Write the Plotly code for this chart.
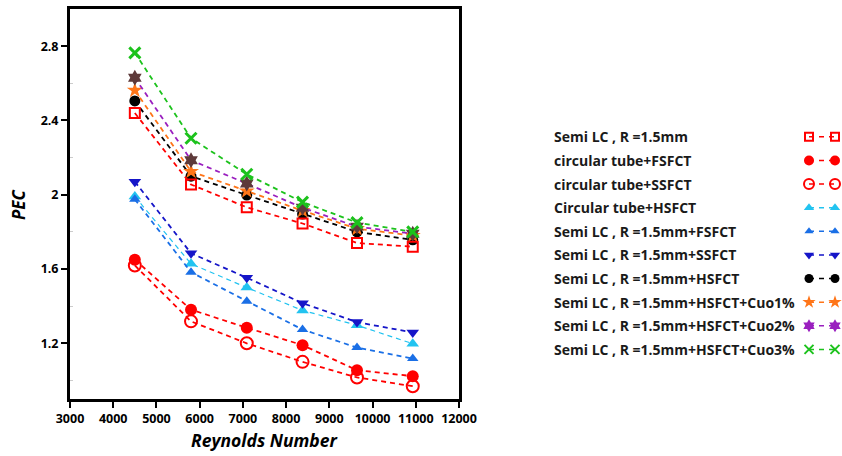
import plotly.graph_objects as go

# ---------------- data ----------------
reynolds = [4500, 5800, 7090, 8380, 9640, 10930]

series_names = [
    "Semi LC , R =1.5mm",
    "circular tube+FSFCT",
    "circular tube+SSFCT",
    "Circular tube+HSFCT",
    "Semi LC , R =1.5mm+FSFCT",
    "Semi LC , R =1.5mm+SSFCT",
    "Semi LC , R =1.5mm+HSFCT",
    "Semi LC , R =1.5mm+HSFCT+Cuo1%",
    "Semi LC , R =1.5mm+HSFCT+Cuo2%",
    "Semi LC , R =1.5mm+HSFCT+Cuo3%",
]

pec_semi_lc = [2.44, 2.055, 1.932, 1.845, 1.740, 1.720]
pec_circ_fsfct = [1.650, 1.381, 1.284, 1.190, 1.055, 1.023]
pec_circ_ssfct = [1.619, 1.318, 1.200, 1.100, 1.016, 0.969]
pec_circ_hsfct = [1.990, 1.628, 1.500, 1.377, 1.297, 1.198]
pec_semi_fsfct = [1.975, 1.583, 1.427, 1.274, 1.177, 1.118]
pec_semi_ssfct = [2.070, 1.685, 1.553, 1.416, 1.314, 1.258]
pec_semi_hsfct = [2.505, 2.100, 1.998, 1.896, 1.800, 1.757]
pec_cuo1 = [2.562, 2.125, 2.020, 1.914, 1.817, 1.780]
pec_cuo2 = [2.630, 2.186, 2.060, 1.930, 1.828, 1.790]
pec_cuo3 = [2.764, 2.304, 2.110, 1.960, 1.850, 1.800]

x_ticks = [3000, 4000, 5000, 6000, 7000, 8000, 9000, 10000, 11000, 12000]
x_tick_labels = ["3000", "4000", "5000", "6000", "7000", "8000", "9000",
                 "10000", "11000", "12000"]
y_ticks = [1.2, 1.6, 2.0, 2.4, 2.8]
y_tick_labels = ["1.2", "1.6", "2", "2.4", "2.8"]

all_values = [pec_semi_lc, pec_circ_fsfct, pec_circ_ssfct, pec_circ_hsfct,
              pec_semi_fsfct, pec_semi_ssfct, pec_semi_hsfct, pec_cuo1,
              pec_cuo2, pec_cuo3]

# ---------------- styles ----------------
styles = [
    dict(symbol="square-open", size=10, mcolor="#ff0000", lcolor="#ff0000", mline=2),
    dict(symbol="circle", size=12, mcolor="#ff0000", lcolor="#ff0000", mline=0),
    dict(symbol="circle-open", size=12, mcolor="#ff0000", lcolor="#ff0000", mline=2),
    dict(symbol="triangle-up", size=11, mcolor="#22c3f0", lcolor="#22c3f0", mline=0),
    dict(symbol="triangle-up", size=10, mcolor="#1a6fe6", lcolor="#1a6fe6", mline=0),
    dict(symbol="triangle-down", size=11, mcolor="#1515c8", lcolor="#1515c8", mline=0),
    dict(symbol="circle", size=11, mcolor="#000000", lcolor="#000000", mline=0),
    dict(symbol="star", size=12, mcolor="#ff7518", lcolor="#ff7518", mline=0),
    dict(symbol="hexagram", size=12, mcolor="#5e3a3a", lcolor="#9a1fbf", mline=0),
    dict(symbol="x-thin", size=11, mcolor="#1cc21c", lcolor="#1cc21c", mline=3),
]
legend_marker_colors = ["#ff0000", "#ff0000", "#ff0000", "#22c3f0", "#1a6fe6",
                        "#1515c8", "#000000", "#ff7518", "#9a1fbf", "#1cc21c"]
line_widths = [1.8, 1.8, 1.8, 1.2, 1.8, 1.8, 1.8, 1.8, 1.8, 1.8]

fig = go.Figure()

draw_order = [1, 2, 3, 4, 5, 6, 7, 8, 9, 0]
for i in draw_order:
    st = styles[i]
    marker = dict(symbol=st["symbol"], size=st["size"], color=st["mcolor"])
    if st["symbol"].endswith("open") or st["symbol"].startswith("x-thin"):
        marker["line"] = dict(color=st["mcolor"], width=st["mline"])
    else:
        marker["line"] = dict(width=0)
    fig.add_trace(go.Scatter(
        x=reynolds, y=all_values[i], mode="lines+markers",
        name=series_names[i], showlegend=False,
        line=dict(color=st["lcolor"], width=line_widths[i], dash="5px,4px"),
        marker=marker, xaxis="x", yaxis="y",
    ))

# ---------------- custom legend (text left, symbols right) ----------------
rows = list(range(len(series_names)))
sym_x1 = 809
sym_x2 = 835
for i in rows:
    st = styles[i]
    lsize = max(st["size"] - 2, 7)
    marker = dict(symbol=st["symbol"], size=lsize, color=legend_marker_colors[i])
    if st["symbol"].endswith("open") or st["symbol"].startswith("x-thin"):
        marker["line"] = dict(color=legend_marker_colors[i], width=2)
    else:
        marker["line"] = dict(width=0)
    fig.add_trace(go.Scatter(
        x=[sym_x1, sym_x2], y=[i, i], mode="lines+markers", showlegend=False,
        line=dict(color=legend_marker_colors[i], width=1.5, dash="5px,5px"),
        marker=marker, xaxis="x2", yaxis="y2", cliponaxis=False,
        hoverinfo="skip",
    ))
    fig.add_annotation(
        x=552, y=i, xref="x2", yref="y2", text=series_names[i],
        showarrow=False, xanchor="left", yanchor="middle",
        font=dict(family="Open Sans", size=14, color="#1a1a1a", weight="bold"),
    )

# ---------------- layout ----------------
W, H = 842, 456
L, T, B = 70, 9, 57
pw = W - L
plot_right = 459

axis_font = dict(family="Open Sans", size=12.5, color="#000000", weight="bold")

fig.update_layout(
    template="none",
    width=W, height=H,
    margin=dict(l=L, r=0, t=T, b=B, pad=0, autoexpand=False),
    paper_bgcolor="white", plot_bgcolor="white",
    showlegend=False,
    xaxis=dict(
        domain=[0, (plot_right - L) / pw], automargin=False,
        range=[3000, 12000], tickvals=x_ticks, ticktext=x_tick_labels,
        ticks="outside", ticklen=6, tickwidth=2, tickcolor="black",
        showline=True, linecolor="black", linewidth=3, mirror=True,
        showgrid=False, zeroline=False,
        tickfont=axis_font,
    ),
    yaxis=dict(
        domain=[0, 1], automargin=False,
        range=[0.9, 3.0], tickvals=y_ticks, ticktext=y_tick_labels,
        ticks="outside", ticklen=6, tickwidth=2, tickcolor="black",
        showline=True, linecolor="black", linewidth=3, mirror=True,
        showgrid=False, zeroline=False,
        tickfont=axis_font,
        minor=dict(tickvals=[1.0, 1.4, 1.8, 2.2, 2.6], ticks="inside",
                   ticklen=3, tickcolor="#cccccc", tickwidth=1),
    ),
    xaxis2=dict(
        domain=[(540 - L) / pw, 1], range=[540, 842], automargin=False,
        visible=False, fixedrange=True,
    ),
    yaxis2=dict(
        domain=[0, 1], range=[11.10, -5.41], anchor="x2", automargin=False,
        visible=False, fixedrange=True,
    ),
)

fig.add_annotation(
    x=(18 - L) / pw, y=0.5, xref="paper", yref="paper", text="<i>PEC</i>",
    showarrow=False, textangle=-90, xanchor="center", yanchor="middle",
    font=dict(family="Open Sans", size=17, color="#000000", weight="bold"),
)
fig.add_annotation(
    x=(264 - L) / pw, y=(399 - 440) / 390, xref="paper", yref="paper",
    text="<i>Reynolds Number</i>", showarrow=False,
    xanchor="center", yanchor="middle",
    font=dict(family="Open Sans", size=17.5, color="#000000", weight="bold"),
)

fig.write_html("out.html")
